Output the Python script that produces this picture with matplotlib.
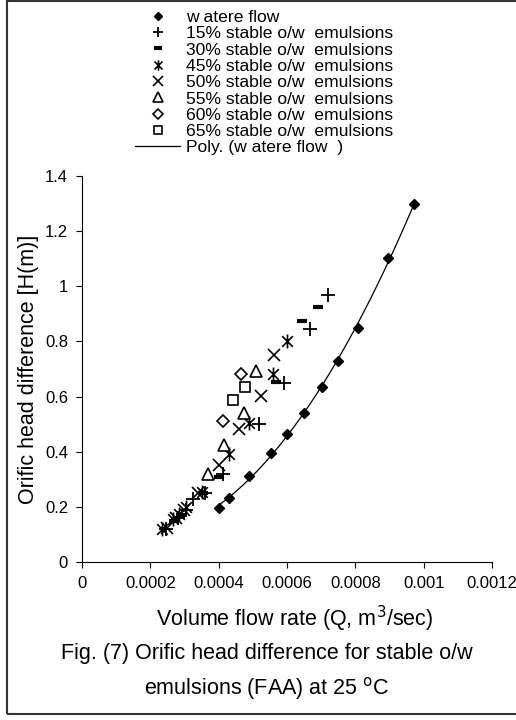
import numpy as np
import matplotlib
matplotlib.use('Agg')
import matplotlib.pyplot as plt
from matplotlib.path import Path
from matplotlib.patches import Rectangle

plt.rcParams['font.family'] = ['Liberation Sans', 'DejaVu Sans']

# water flow
q_water = [0.000401, 0.00043, 0.000489, 0.000553, 0.0006, 0.00065, 0.000702, 0.000749, 0.000808, 0.000896, 0.000972]
h_water = [0.196, 0.232, 0.312, 0.395, 0.464, 0.54, 0.635, 0.729, 0.849, 1.103, 1.298]

# emulsions
q15 = [0.000245, 0.00028, 0.000305, 0.000325, 0.00036, 0.000413, 0.000518, 0.000591, 0.000667, 0.00072]
h15 = [0.12, 0.16, 0.19, 0.23, 0.25, 0.319, 0.50, 0.649, 0.845, 0.968]
q30 = [0.00027, 0.00029, 0.000355, 0.000401, 0.000568, 0.000644, 0.000691]
h30 = [0.15, 0.17, 0.25, 0.31, 0.653, 0.875, 0.925]
q45 = [0.000235, 0.000265, 0.000285, 0.000305, 0.00035, 0.00043, 0.000489, 0.000559, 0.0006]
h45 = [0.12, 0.155, 0.175, 0.2, 0.255, 0.39, 0.504, 0.682, 0.80]
q50 = [0.00025, 0.000275, 0.0003, 0.00034, 0.000401, 0.00046, 0.000524, 0.000562]
h50 = [0.125, 0.16, 0.19, 0.25, 0.352, 0.482, 0.602, 0.751]
q55 = [0.000369, 0.000416, 0.000474, 0.000509]
h55 = [0.319, 0.424, 0.54, 0.693]
q60 = [0.000412, 0.000465]
h60 = [0.511, 0.682]
q65 = [0.000442, 0.000477]
h65 = [0.588, 0.635]

labels = ['w atere flow', '15% stable o/w  emulsions', '30% stable o/w  emulsions',
          '45% stable o/w  emulsions', '50% stable o/w  emulsions', '55% stable o/w  emulsions',
          '60% stable o/w  emulsions', '65% stable o/w  emulsions', 'Poly. (w atere flow  )']

# asterisk marker like excel: x with vertical bar
star = Path([(-1, -1), (1, 1), (-1, 1), (1, -1), (0, -1.3), (0, 1.3)],
            [Path.MOVETO, Path.LINETO, Path.MOVETO, Path.LINETO, Path.MOVETO, Path.LINETO])

fig = plt.figure(figsize=(5.16, 7.2), dpi=100)
ax = fig.add_axes([82/516, 158/720, 410/516, 386/720])

ax.plot(q_water, h_water, 'D', color='black', ms=5, label=labels[0], zorder=4)
ax.plot(q15, h15, '+', color='black', ms=10, mew=1.3, label=labels[1])
ax.plot(q30, h30, '_', color='black', ms=7, mew=3, label=labels[2])
ax.plot(q45, h45, ls='none', marker=star, color='black', ms=10, mew=1.2, label=labels[3])
ax.plot(q50, h50, 'x', color='black', ms=9, mew=1.2, label=labels[4])
ax.plot(q55, h55, '^', mfc='white', mec='black', ms=9, mew=1.2, label=labels[5])
ax.plot(q60, h60, 'D', mfc='white', mec='black', ms=6.5, mew=1.2, label=labels[6])
ax.plot(q65, h65, 's', mfc='white', mec='black', ms=7.5, mew=1.2, label=labels[7])

# excel-style 2nd order trendline on water flow
coef = np.polyfit(q_water, h_water, 2)
qq = np.linspace(min(q_water), max(q_water), 100)
ax.plot(qq, np.polyval(coef, qq), color='black', lw=0.9, label=labels[8], zorder=3)

ax.set_xlim(0, 0.0012)
ax.set_ylim(0, 1.4)
ax.set_xticks(np.arange(0, 0.00121, 0.0002))
ax.set_xticklabels(['0', '0.0002', '0.0004', '0.0006', '0.0008', '0.001', '0.0012'])
ax.set_yticks(np.arange(0, 1.41, 0.2))
ax.set_yticklabels(['0', '0.2', '0.4', '0.6', '0.8', '1', '1.2', '1.4'])
ax.tick_params(direction='out', length=4, width=0.8, labelsize=12, pad=6)
ax.spines['top'].set_visible(False)
ax.spines['right'].set_visible(False)
ax.set_xlabel('Volume flow rate (Q, m$^3$/sec)', fontsize=15.5, labelpad=9)
ax.xaxis.label.set_x(0.52)
ax.set_ylabel('Orific head difference [H(m)]', fontsize=15.5, labelpad=4)

h, l = ax.get_legend_handles_labels()
leg = fig.legend(h, l, loc='upper left', bbox_to_anchor=(126/516, 1 - 1/720), frameon=False,
                 fontsize=12.6, labelspacing=0.06, handlelength=2.6, handletextpad=0.35,
                 borderpad=0, markerscale=0.75)

fig.text(267/516, 1 - 654/720, 'Fig. (7) Orific head difference for stable o/w', ha='center', va='center', fontsize=15.5)
fig.text(267/516, 1 - 688/720, 'emulsions (FAA) at 25 $^{\\mathrm{o}}$C', ha='center', va='center', fontsize=15.5)

fig.patches.append(Rectangle((7/516, 6/720), 1.2, 713/720, transform=fig.transFigure,
                             fill=False, edgecolor='#333333', lw=1.5))

fig.savefig('out.png', dpi=100)
